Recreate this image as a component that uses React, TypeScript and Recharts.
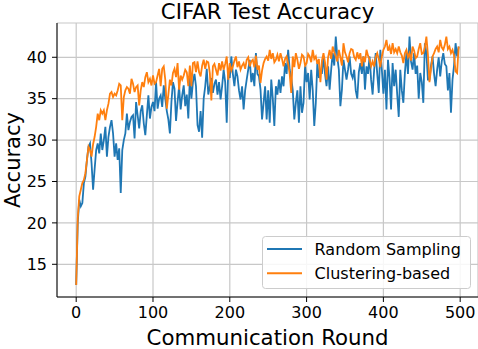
import React from "react";
import { LineChart, Line, XAxis, YAxis, CartesianGrid, Legend } from "recharts";

const FONT = "'DejaVu Sans', sans-serif";

// communication rounds sampled every 2 rounds
const rounds = Array.from({ length: 250 }, (_, i) => i * 2);

const randomSampling = [
  12.5, 20.0, 22.8, 22.0, 22.4, 24.8, 25.6, 27.6, 29.2, 29.6,
  27.2, 24.0, 26.5, 28.8, 29.6, 28.4, 30.8, 28.8, 30.0, 31.6,
  28.0, 30.4, 31.6, 32.4, 30.8, 28.0, 29.6, 27.6, 29.0, 23.6,
  28.8, 30.0, 30.8, 33.2, 31.2, 32.2, 32.8, 33.0, 30.2, 34.6,
  33.0, 31.4, 33.5, 34.2, 32.0, 30.6, 33.0, 35.4, 32.6, 34.0,
  34.6, 33.5, 37.0, 33.8, 35.0, 35.4, 34.0, 36.6, 35.0, 33.5,
  32.5, 30.8, 34.6, 37.0, 36.2, 32.3, 34.6, 36.5, 33.7, 35.4,
  36.6, 34.1, 35.5, 32.6, 37.5, 35.0, 37.0, 38.0, 36.5, 31.8,
  31.0, 33.5, 30.3, 35.0, 36.5, 38.6, 35.5, 36.5, 37.5, 35.7,
  36.8, 37.3, 35.5, 37.0, 34.9, 36.5, 38.5, 37.0, 32.1, 38.5,
  37.5, 40.1, 38.0, 36.5, 38.5, 37.7, 36.0, 34.9, 36.5, 33.7,
  36.0, 37.3, 38.5, 39.7, 37.0, 38.1, 36.5, 40.5, 38.0, 37.7,
  36.1, 32.5, 34.5, 36.5, 32.5, 36.0, 32.1, 37.3, 35.0, 31.7,
  36.5, 35.5, 37.3, 35.7, 37.7, 36.5, 39.3, 38.0, 40.9, 38.5,
  37.5, 36.0, 32.5, 34.5, 36.0, 32.1, 36.5, 33.3, 34.5, 38.9,
  37.0, 38.1, 34.9, 38.5, 36.0, 31.7, 34.5, 39.3, 37.5, 38.1,
  38.1, 40.1, 38.0, 36.5, 38.9, 36.1, 38.5, 40.5, 39.0, 42.5,
  40.0, 38.5, 34.1, 36.1, 39.7, 38.5, 37.3, 38.5, 40.1, 38.0,
  37.5, 38.5, 36.0, 35.0, 38.2, 39.3, 38.0, 40.1, 36.1, 38.9,
  38.0, 40.1, 37.3, 35.5, 38.5, 40.5, 38.0, 35.7, 40.9, 38.5,
  35.6, 38.5, 33.7, 39.7, 37.5, 33.7, 39.3, 36.5, 38.5, 35.5,
  32.8, 38.5, 36.0, 34.5, 38.1, 40.5, 38.0, 42.5, 39.5, 38.5,
  40.5, 38.0, 39.0, 35.0, 38.1, 37.0, 34.5, 41.7, 40.5, 37.3,
  37.3, 39.0, 40.1, 38.0, 36.5, 38.5, 40.0, 37.7, 39.5, 40.5,
  39.2, 38.9, 36.0, 38.1, 33.3, 37.3, 39.0, 41.7, 40.1, 41.3,
];

const clusteringBased = [
  12.5, 20.5, 23.2, 24.0, 24.8, 25.2, 26.0, 27.6, 29.2, 28.8,
  28.0, 29.5, 30.4, 31.6, 33.2, 32.4, 33.6, 33.2, 33.6, 32.4,
  33.6, 34.4, 35.6, 35.8, 35.2, 35.6, 35.4, 36.0, 36.8, 36.6,
  32.4, 35.2, 36.0, 36.4, 36.2, 35.6, 37.4, 36.8, 35.8, 36.4,
  36.6, 34.2, 36.0, 37.0, 36.4, 37.6, 38.2, 37.0, 37.4, 36.6,
  37.8, 36.8, 37.0, 37.8, 38.6, 36.5, 38.6, 38.9, 37.3, 33.8,
  35.5, 37.3, 36.6, 38.1, 38.6, 37.6, 39.3, 36.1, 37.8, 37.3,
  37.8, 38.5, 38.2, 36.5, 39.0, 36.5, 39.3, 39.4, 38.2, 39.5,
  38.2, 37.7, 39.0, 39.7, 38.6, 39.5, 39.4, 38.1, 34.8, 38.9,
  39.2, 38.5, 37.8, 39.3, 38.4, 39.5, 38.5, 39.2, 40.1, 37.3,
  39.3, 38.4, 38.9, 39.6, 40.1, 38.8, 39.5, 38.5, 39.0, 39.3,
  38.6, 39.7, 40.0, 38.9, 39.5, 39.7, 38.8, 40.2, 38.5, 39.0,
  36.9, 38.4, 39.3, 39.8, 40.1, 39.6, 40.9, 39.8, 40.5, 39.4,
  39.7, 40.3, 39.5, 40.5, 39.8, 38.9, 39.8, 40.1, 39.2, 38.0,
  35.7, 40.1, 38.8, 40.5, 39.7, 38.6, 39.3, 40.3, 40.1, 39.0,
  39.3, 40.4, 40.1, 39.4, 40.9, 39.8, 40.1, 39.2, 39.8, 37.0,
  39.6, 40.5, 39.4, 37.3, 40.0, 40.9, 39.8, 41.3, 40.6, 40.1,
  39.5, 40.9, 40.0, 39.0, 41.7, 40.6, 40.1, 39.4, 40.5, 41.0,
  40.9, 40.0, 39.7, 40.6, 39.8, 40.5, 38.9, 40.1, 39.4, 40.9,
  40.2, 39.7, 38.9, 39.5, 38.9, 40.0, 40.5, 39.8, 38.8, 40.1,
  40.9, 41.3, 42.1, 40.8, 41.3, 40.4, 41.7, 40.6, 41.0, 40.5,
  41.3, 40.6, 40.2, 39.3, 40.5, 40.9, 40.0, 40.5, 39.6, 41.3,
  40.8, 39.9, 40.1, 41.0, 41.7, 40.4, 40.5, 41.2, 42.5, 40.3,
  37.0, 38.6, 40.1, 40.5, 41.0, 41.3, 40.6, 42.1, 41.2, 40.9,
  41.5, 42.5, 41.0, 41.3, 40.5, 40.9, 40.2, 38.3, 38.1, 41.3,
];

const xTicks = [0, 100, 200, 300, 400, 500];
const yTicks = [15, 20, 25, 30, 35, 40];
const seriesNames = ["Random Sampling", "Clustering-based"];
const seriesKeys = ["random", "clustering"];
const seriesColors = ["#1f77b4", "#ff7f0e"];
const chartTitle = "CIFAR Test Accuracy";
const xTitle = "Communication Round";
const yTitle = "Accuracy";

const data = rounds.map((r, i) => ({
  round: r,
  random: randomSampling[i],
  clustering: clusteringBased[i],
}));

const X_DOMAIN: [number, number] = [-25, 523.2];
const Y_DOMAIN: [number, number] = [11.05, 44.14];

const LegendBox = () => (
  <svg width={210} height={54} style={{ display: "block" }}>
    <rect x={0.5} y={0.5} width={208} height={52} rx={3} fill="rgba(255,255,255,0.85)" stroke="#cccccc" strokeWidth={1} />
    {seriesNames.map((n, i) => (
      <g key={n}>
        <line x1={5} x2={40} y1={13 + i * 24.3} y2={13 + i * 24.3} stroke={seriesColors[i]} strokeWidth={2} />
        <text x={52.6} y={13 + i * 24.3} dy="0.35em" fontSize={16} fontFamily={FONT} fill="#000">
          {n}
        </text>
      </g>
    ))}
  </svg>
);

export default function App() {
  const tickStyle = { fill: "#000", fontSize: 16, fontFamily: FONT };
  return (
    <div style={{ position: "absolute", left: 0, top: 0 }}>
      <LineChart width={478} height={349} data={data} margin={{ top: 23, right: 0, bottom: 0, left: 0 }}>
        <CartesianGrid stroke="#c8c8c8" strokeWidth={1.2} />
        <XAxis
          dataKey="round"
          type="number"
          domain={X_DOMAIN}
          allowDataOverflow
          ticks={xTicks}
          interval={0}
          height={52}
          tickSize={5}
          tickMargin={5}
          stroke="#000"
          tick={tickStyle}
          label={() => (
            <text x={267.6} y={345} textAnchor="middle" fontSize={21.3} fontFamily={FONT} fill="#000">
              {xTitle}
            </text>
          )}
        />
        <XAxis
          xAxisId="top"
          orientation="top"
          dataKey="round"
          type="number"
          domain={X_DOMAIN}
          allowDataOverflow
          height={0}
          tick={false}
          tickLine={false}
          stroke="#000"
        />
        <YAxis
          type="number"
          domain={Y_DOMAIN}
          allowDataOverflow
          ticks={yTicks}
          interval={0}
          width={57}
          tickSize={5}
          tickMargin={5}
          stroke="#000"
          tick={tickStyle}
          label={() => (
            <g>
              <text
                transform="translate(20,160) rotate(-90)"
                textAnchor="middle"
                fontSize={21}
                fontFamily={FONT}
                fill="#000"
              >
                {yTitle}
              </text>
              <text x={267.6} y={18.6} textAnchor="middle" fontSize={21.3} fontFamily={FONT} fill="#000">
                {chartTitle}
              </text>
            </g>
          )}
        />
        {seriesKeys.map((k, i) => (
          <Line
            key={k}
            dataKey={k}
            name={seriesNames[i]}
            type="linear"
            stroke={seriesColors[i]}
            strokeWidth={1.8}
            dot={false}
            activeDot={false}
            isAnimationActive={false}
          />
        ))}
        <Legend
          verticalAlign="middle"
          layout="horizontal"
          align="center"
          wrapperStyle={{ position: "absolute", left: 261.7, top: 236, width: 210, height: 54 }}
          content={() => <LegendBox />}
        />
      </LineChart>
    </div>
  );
}
